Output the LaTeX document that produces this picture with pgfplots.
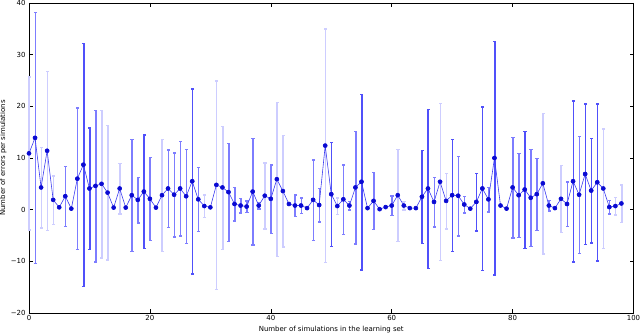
\documentclass[border=0pt]{standalone}
\usepackage{fontspec}
\setmainfont{DejaVu Sans}
\usepackage{pgfplots}
\pgfplotsset{compat=1.18}
\usepackage{pgfplotstable}
\usetikzlibrary{calc}

\definecolor{bardark}{RGB}{80,80,250}
\definecolor{barmed}{RGB}{125,125,255}
\definecolor{barlight}{RGB}{205,205,255}
\definecolor{linec}{RGB}{60,60,240}
\definecolor{markc}{RGB}{10,10,210}

% x  mean  err
\pgfplotstableread{
x y e
9 8.7 23.5
10 4.1 11.8
19 3.5 11.0
27 5.5 17.9
50 3.0 10.1
55 5.4 17.0
65 2.5 9.0
66 4.1 15.4
70 2.8 10.8
74 1.5 5.6
75 4.1 15.8
77 10.0 22.6
82 3.9 11.3
90 5.5 15.6
92 6.9 13.6
93 3.7 10.1
94 5.3 15.2
}\darktab

\pgfplotstableread{
x y e
1 13.9 24.3
6 2.6 5.8
8 6.0 13.7
11 4.6 14.7
17 2.8 10.8
18 1.9 4.4
20 2.1 8.0
23 4.1 7.5
24 2.9 8.1
25 4.1 9.1
26 2.6 9.1
28 2.0 6.2
33 3.4 9.5
34 1.1 3.2
35 0.8 1.4
36 0.6 1.1
37 3.5 10.3
38 0.8 0.6
40 2.1 6.6
44 0.8 2.1
45 0.8 1.5
47 1.9 7.8
48 0.9 3.2
52 2.0 6.7
53 0.8 0.8
54 4.3 10.9
57 1.7 5.5
60 0.8 1.9
67 1.5 4.8
71 2.7 7.7
72 1.0 1.6
76 2.0 2.4
80 4.3 9.7
81 2.8 8.1
83 2.3 9.4
84 3.0 7.0
86 0.8 1.0
89 1.1 4.3
91 2.9 11.3
96 0.5 1.3
}\medtab

\pgfplotstableread{
x y e
0 10.9 14.8
2 4.3 7.8
3 11.4 15.4
4 1.9 4.7
12 5.0 14.3
13 3.3 13.0
15 4.1 4.9
22 2.8 10.8
29 0.7 2.2
31 4.8 20.2
32 4.3 11.9
39 2.7 6.4
41 5.9 14.9
42 3.6 10.8
49 12.4 22.6
51 0.7 1.6
61 2.8 8.9
62 0.8 0.8
68 5.4 15.2
69 1.7 5.4
85 5.1 13.6
88 2.1 6.5
95 4.1 11.6
97 0.7 1.7
98 1.2 3.6
}\lighttab

\pgfplotstableread{
x y
0 10.9
1 13.9
2 4.3
3 11.4
4 1.9
5 0.45
6 2.6
7 0.2
8 6.0
9 8.7
10 4.1
11 4.6
12 5.0
13 3.3
14 0.4
15 4.1
16 0.4
17 2.8
18 1.9
19 3.5
20 2.1
21 0.4
22 2.8
23 4.1
24 2.9
25 4.1
26 2.6
27 5.5
28 2.0
29 0.7
30 0.45
31 4.8
32 4.3
33 3.4
34 1.1
35 0.8
36 0.6
37 3.5
38 0.8
39 2.7
40 2.1
41 5.9
42 3.6
43 1.1
44 0.8
45 0.8
46 0.3
47 1.9
48 0.9
49 12.4
50 3.0
51 0.7
52 2.0
53 0.8
54 4.3
55 5.4
56 0.3
57 1.7
58 0.1
59 0.5
60 0.8
61 2.8
62 0.8
63 0.3
64 0.3
65 2.5
66 4.1
67 1.5
68 5.4
69 1.7
70 2.8
71 2.7
72 1.0
73 0.2
74 1.5
75 4.1
76 2.0
77 10.0
78 0.8
79 0.2
80 4.3
81 2.8
82 3.9
83 2.3
84 3.0
85 5.1
86 0.8
87 0.3
88 2.1
89 1.1
90 5.5
91 2.9
92 6.9
93 3.7
94 5.3
95 4.1
96 0.5
97 0.7
98 1.2
}\means

% bars and caps as filled boxes
\pgfplotsset{
  errbars/.style={only marks, mark=none, forget plot, color=#1,
    error bars/.cd, y dir=both, y explicit,
    draw error bar/.code 2 args={
      \path ##1 coordinate (ebA);
      \path ##2 coordinate (ebB);
      \fill[#1] ($(ebA)+(-0.3bp,0)$) rectangle ($(ebB)+(0.3bp,0)$);
      \fill[#1] ($(ebB)+(-1.1bp,-0.2bp)$) rectangle ($(ebB)+(1.1bp,0.2bp)$);
    }}
}

\begin{document}
\begin{tikzpicture}
\useasboundingbox (-29bp,-23bp) rectangle (611bp,313bp);
\begin{axis}[
  scale only axis, width=604.5bp, height=310bp,
  xmin=0, xmax=100, ymin=-20, ymax=40,
  xtick={0,20,40,60,80,100},
  ytick={-20,-10,0,10,20,30,40},
  yticklabels={−20,−10,0,10,20,30,40},
  xticklabels={0,20,40,60,80,100},
  tick align=inside, major tick length=4bp,
  tick style={black, line width=0.5pt},
  axis line style={black, line width=0.8pt},
  tick label style={font=\fontsize{7}{8}\selectfont},
  xticklabel style={yshift=1bp},
  label style={font=\fontsize{7}{8}\selectfont},
  xlabel={Number of simulations in the learning set},
  ylabel={Number of errors per simulations},
  xlabel style={at={(axis description cs:0.5,0)}, anchor=north, yshift=-10bp},
  ylabel style={at={(axis description cs:0,0.5)}, anchor=south, yshift=19bp},
  clip=false,
]
\addplot[errbars=barlight] table[x=x, y=y, y error=e] {\lighttab};
\addplot[errbars=barmed] table[x=x, y=y, y error=e] {\medtab};
\addplot[errbars=bardark] table[x=x, y=y, y error=e] {\darktab};
\addplot[linec, line width=0.6pt, mark=*, mark size=2bp,
  mark options={fill=markc, draw=markc}]
  table[x=x, y=y] {\means};
\end{axis}
\end{tikzpicture}
\end{document}
